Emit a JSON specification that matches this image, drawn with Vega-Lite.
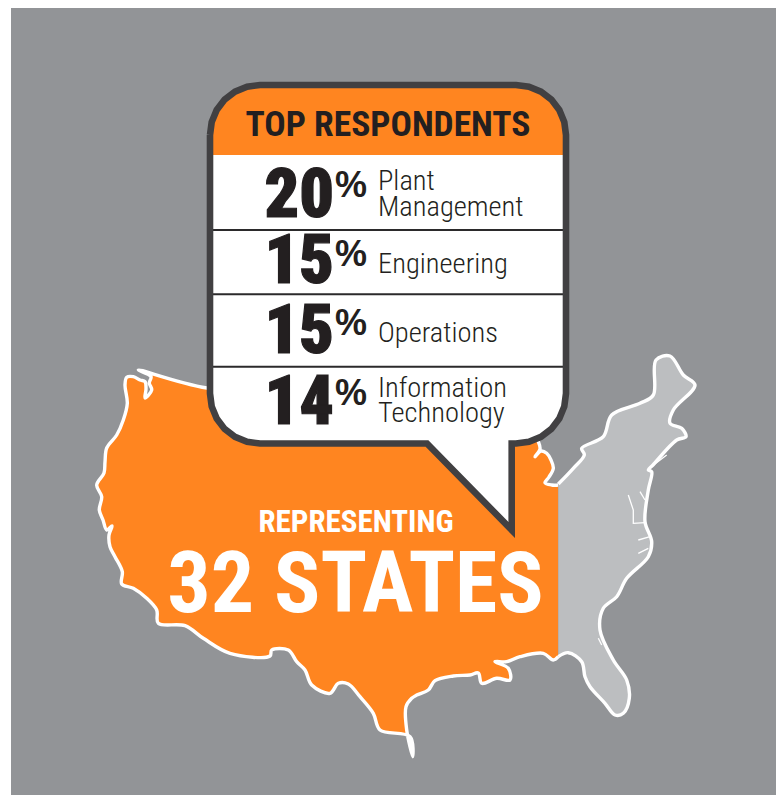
{"$schema":"https://vega.github.io/schema/vega-lite/v6.json","width":776,"height":795,"padding":0,"autosize":{"type":"fit","contains":"padding"},"background":"#ffffff","view":{"stroke":null},
"datasets":{
"west":[{"i":1,"x":558.3,"y":485},{"i":2,"x":551.7,"y":485},{"i":3,"x":545,"y":482.7},{"i":4,"x":549,"y":477},{"i":5,"x":553.3,"y":468.3},{"i":6,"x":551,"y":460},{"i":7,"x":546.7,"y":453.3},{"i":8,"x":541,"y":451},{"i":9,"x":535,"y":456.7},{"i":10,"x":540,"y":449},{"i":11,"x":538.3,"y":441.7},{"i":12,"x":520,"y":410},{"i":13,"x":400,"y":400},{"i":14,"x":207,"y":388},{"i":15,"x":138.3,"y":370},{"i":16,"x":151,"y":376.7},{"i":17,"x":149.3,"y":383},{"i":18,"x":151.7,"y":390},{"i":19,"x":145,"y":398},{"i":20,"x":146,"y":389},{"i":21,"x":145,"y":381.7},{"i":22,"x":140,"y":380},{"i":23,"x":133.3,"y":376.7},{"i":24,"x":126.7,"y":377.3},{"i":25,"x":125,"y":385},{"i":26,"x":127.3,"y":403.3},{"i":27,"x":123.3,"y":420},{"i":28,"x":116.7,"y":435},{"i":29,"x":106.7,"y":448},{"i":30,"x":105,"y":462},{"i":31,"x":104,"y":473},{"i":32,"x":96.7,"y":485},{"i":33,"x":101.7,"y":496.7},{"i":34,"x":99.3,"y":510},{"i":35,"x":103,"y":520},{"i":36,"x":106.7,"y":530},{"i":37,"x":112,"y":526},{"i":38,"x":109,"y":535},{"i":39,"x":110,"y":546.7},{"i":40,"x":115,"y":556.7},{"i":41,"x":122.3,"y":571.7},{"i":42,"x":121.7,"y":584},{"i":43,"x":133.3,"y":588.3},{"i":44,"x":146.7,"y":598.3},{"i":45,"x":156.7,"y":610},{"i":46,"x":158.3,"y":623.3},{"i":47,"x":185,"y":625.7},{"i":48,"x":203.3,"y":638.3},{"i":49,"x":230,"y":653.3},{"i":50,"x":270,"y":656},{"i":51,"x":271.7,"y":650},{"i":52,"x":288.3,"y":650},{"i":53,"x":296.7,"y":661.7},{"i":54,"x":305,"y":670},{"i":55,"x":311.7,"y":685},{"i":56,"x":330,"y":693.3},{"i":57,"x":338.3,"y":683.3},{"i":58,"x":348.3,"y":684},{"i":59,"x":360,"y":696.7},{"i":60,"x":373.3,"y":713.3},{"i":61,"x":380,"y":730},{"i":62,"x":410,"y":736.7},{"i":63,"x":412.7,"y":756.7},{"i":64,"x":406.7,"y":730},{"i":65,"x":406,"y":706.7},{"i":66,"x":411.7,"y":698.3},{"i":67,"x":416.7,"y":695},{"i":68,"x":428.3,"y":690},{"i":69,"x":435,"y":680.7},{"i":70,"x":453.3,"y":676},{"i":71,"x":470,"y":675},{"i":72,"x":478.3,"y":673},{"i":73,"x":481.7,"y":683.3},{"i":74,"x":496.7,"y":678.3},{"i":75,"x":510,"y":680},{"i":76,"x":508.3,"y":668.3},{"i":77,"x":495,"y":661.7},{"i":78,"x":506.7,"y":661.7},{"i":79,"x":520,"y":656.7},{"i":80,"x":543.3,"y":653.3},{"i":81,"x":553.3,"y":660},{"i":82,"x":558.3,"y":656.7}],
"east":[{"i":1,"x":558.3,"y":656.7},{"i":2,"x":568.3,"y":652.7},{"i":3,"x":581.7,"y":661.7},{"i":4,"x":585,"y":676.7},{"i":5,"x":590,"y":686.7},{"i":6,"x":605,"y":703.3},{"i":7,"x":615,"y":715},{"i":8,"x":623.3,"y":713.3},{"i":9,"x":629.3,"y":698.3},{"i":10,"x":626.7,"y":680},{"i":11,"x":613.3,"y":660},{"i":12,"x":600,"y":630},{"i":13,"x":603.3,"y":608.3},{"i":14,"x":616.7,"y":596.7},{"i":15,"x":626.7,"y":578.3},{"i":16,"x":648.3,"y":556.7},{"i":17,"x":651.7,"y":541.7},{"i":18,"x":645,"y":521.7},{"i":19,"x":648.3,"y":490},{"i":20,"x":651.7,"y":471.7},{"i":21,"x":648.3,"y":470},{"i":22,"x":653,"y":465},{"i":23,"x":676.7,"y":440},{"i":24,"x":686,"y":436.7},{"i":25,"x":681.7,"y":428.3},{"i":26,"x":670,"y":423.3},{"i":27,"x":673.3,"y":410},{"i":28,"x":695,"y":385},{"i":29,"x":683.3,"y":375},{"i":30,"x":670,"y":356},{"i":31,"x":656,"y":360},{"i":32,"x":653.3,"y":395},{"i":33,"x":640,"y":403.3},{"i":34,"x":611.7,"y":415},{"i":35,"x":603.3,"y":436.7},{"i":36,"x":581.7,"y":448.3},{"i":37,"x":584.3,"y":455},{"i":38,"x":573.3,"y":468.3},{"i":39,"x":558.3,"y":484}],
"inlets":[{"part":"chesapeake","i":1,"x":628.3,"y":495},{"part":"chesapeake","i":2,"x":633.3,"y":510},{"part":"chesapeake","i":3,"x":633.3,"y":523.3},{"part":"chesapeake","i":4,"x":645,"y":522.7},{"part":"delaware","i":1,"x":640,"y":491.7},{"part":"delaware","i":2,"x":645,"y":500},{"part":"pamlico","i":1,"x":638.3,"y":540},{"part":"pamlico","i":2,"x":650,"y":536.7},{"part":"neuse","i":1,"x":638.3,"y":553.3},{"part":"neuse","i":2,"x":648.3,"y":548.3},{"part":"longisland","i":1,"x":648.3,"y":469},{"part":"longisland","i":2,"x":666.7,"y":455},{"part":"tampa","i":1,"x":598.3,"y":638.3},{"part":"tampa","i":2,"x":601.7,"y":645}],
"bubble":[{"i":1,"x":210,"y":135},{"i":2,"x":211.7,"y":122.1},{"i":3,"x":216.7,"y":110},{"i":4,"x":224.6,"y":99.6},{"i":5,"x":235,"y":91.7},{"i":6,"x":247.1,"y":86.7},{"i":7,"x":260,"y":85},{"i":8,"x":516,"y":85},{"i":9,"x":528.9,"y":86.7},{"i":10,"x":541,"y":91.7},{"i":11,"x":551.4,"y":99.6},{"i":12,"x":559.3,"y":110},{"i":13,"x":564.3,"y":122.1},{"i":14,"x":566,"y":135},{"i":15,"x":566,"y":393.5},{"i":16,"x":564.3,"y":406.4},{"i":17,"x":559.3,"y":418.5},{"i":18,"x":551.4,"y":428.9},{"i":19,"x":541,"y":436.8},{"i":20,"x":528.9,"y":441.8},{"i":21,"x":516,"y":443.5},{"i":22,"x":511.7,"y":443.5},{"i":23,"x":511.7,"y":530},{"i":24,"x":427,"y":443.5},{"i":25,"x":260,"y":443.5},{"i":26,"x":247.1,"y":441.8},{"i":27,"x":235,"y":436.8},{"i":28,"x":224.6,"y":428.9},{"i":29,"x":216.7,"y":418.5},{"i":30,"x":211.7,"y":406.4},{"i":31,"x":210,"y":393.5},{"i":32,"x":210,"y":135}],
"header":[{"i":1,"x":210,"y":155},{"i":2,"x":210,"y":135},{"i":3,"x":211.7,"y":122.1},{"i":4,"x":216.7,"y":110},{"i":5,"x":224.6,"y":99.6},{"i":6,"x":235,"y":91.7},{"i":7,"x":247.1,"y":86.7},{"i":8,"x":260,"y":85},{"i":9,"x":516,"y":85},{"i":10,"x":528.9,"y":86.7},{"i":11,"x":541,"y":91.7},{"i":12,"x":551.4,"y":99.6},{"i":13,"x":559.3,"y":110},{"i":14,"x":564.3,"y":122.1},{"i":15,"x":566,"y":135},{"i":16,"x":566,"y":155}],
"respondents":[{"rank":1,"pct":"20","x":334,"px":335},{"rank":2,"pct":"15","x":334,"px":335},{"rank":3,"pct":"15","x":334,"px":335},{"rank":4,"pct":"14","x":334,"px":335}],
"labelLines":[{"slot":1,"line":"Plant","x":378},{"slot":2,"line":"Management","x":378},{"slot":3,"line":"Engineering","x":378},{"slot":4,"line":"Operations","x":378},{"slot":5,"line":"Information","x":378},{"slot":6,"line":"Technology","x":378}],
"titles":[{"title":"TOP RESPONDENTS","x":388,"y":136,"kind":"head"},{"title":"REPRESENTING","x":356,"y":531.7,"kind":"sub"},{"title":"32 STATES","x":355.5,"y":611.7,"kind":"big"}]
},
"resolve":{"scale":{"y":"independent"}},
"encoding":{"x":{"field":"x","type":"quantitative","scale":{"domain":[0,776]},"axis":null},"y":{"field":"y","type":"quantitative","scale":{"domain":[795,0]},"axis":null}},
"layer":[
{"data":{"values":[{"x":11,"x2":776,"y":8,"y2":795}]},"mark":{"type":"rect","fill":"#929497"},"encoding":{"x2":{"field":"x2"},"y2":{"field":"y2"}}},
{"data":{"name":"west"},"mark":{"type":"line","interpolate":"catmull-rom","fill":"#ff8520","stroke":"#ffffff","strokeWidth":3.4,"strokeJoin":"round"},"encoding":{"order":{"field":"i","type":"quantitative"}}},
{"data":{"name":"east"},"mark":{"type":"line","interpolate":"catmull-rom","fill":"#bcbec0","stroke":"#ffffff","strokeWidth":3.4,"strokeJoin":"round"},"encoding":{"order":{"field":"i","type":"quantitative"}}},
{"data":{"name":"inlets"},"mark":{"type":"line","stroke":"#ffffff","strokeWidth":1.3},"encoding":{"detail":{"field":"part"},"order":{"field":"i","type":"quantitative"}}},
{"data":{"name":"bubble"},"mark":{"type":"line","fill":"#ffffff","stroke":null,"strokeWidth":0},"encoding":{"order":{"field":"i","type":"quantitative"}}},
{"data":{"name":"header"},"mark":{"type":"line","fill":"#ff8520","stroke":null,"strokeWidth":0},"encoding":{"order":{"field":"i","type":"quantitative"}}},
{"data":{"values":[{"x":213,"x2":567,"y":230},{"x":213,"x2":567,"y":294.3},{"x":213,"x2":567,"y":366.7}]},"mark":{"type":"rule","stroke":"#2b2a2b","strokeWidth":2},"encoding":{"x2":{"field":"x2"}}},
{"data":{"name":"bubble"},"mark":{"type":"line","stroke":"#414042","strokeWidth":6.6,"strokeJoin":"miter","strokeMiterLimit":10},"encoding":{"order":{"field":"i","type":"quantitative"}}},
{"data":{"name":"titles"},"transform":[{"filter":"datum.kind==='head'"}],"mark":{"type":"text","font":"Roboto Condensed","fontWeight":"bold","fontSize":35.5,"fill":"#231f20","align":"center","baseline":"alphabetic"},"encoding":{"text":{"field":"title"}}},
{"data":{"name":"respondents"},"mark":{"type":"text","font":"Roboto Condensed","fontWeight":900,"fontSize":68,"fill":"#231f20","stroke":"#231f20","strokeWidth":1.2,"align":"right","baseline":"alphabetic"},"encoding":{"y":{"field":"rank","type":"quantitative","scale":{"domain":[1,2,3,4],"range":[216.7,283.3,353.3,424]},"axis":null},"text":{"field":"pct"}}},
{"data":{"name":"respondents"},"mark":{"type":"text","font":"Liberation Sans","fontWeight":"bold","fontSize":36,"fill":"#231f20","align":"left","baseline":"alphabetic","text":"%"},"encoding":{"x":{"field":"px","type":"quantitative"},"y":{"field":"rank","type":"quantitative","scale":{"domain":[1,2,3,4],"range":[196.7,265.7,335,405]},"axis":null}}},
{"data":{"name":"labelLines"},"mark":{"type":"text","font":"Roboto Condensed","fontWeight":300,"fontSize":28.5,"fill":"#231f20","align":"left","baseline":"alphabetic"},"encoding":{"y":{"field":"slot","type":"quantitative","scale":{"domain":[1,2,3,4,5,6],"range":[190,215.7,273.3,341.7,396.7,421.7]},"axis":null},"text":{"field":"line"}}},
{"data":{"name":"titles"},"transform":[{"filter":"datum.kind==='sub'"}],"mark":{"type":"text","font":"Roboto Condensed","fontWeight":"bold","fontSize":31,"fill":"#ffffff","align":"center","baseline":"alphabetic"},"encoding":{"text":{"field":"title"}}},
{"data":{"name":"titles"},"transform":[{"filter":"datum.kind==='big'"}],"mark":{"type":"text","font":"Roboto Condensed","fontWeight":"bold","fontSize":86,"fill":"#ffffff","align":"center","baseline":"alphabetic"},"encoding":{"text":{"field":"title"}}}
]}
